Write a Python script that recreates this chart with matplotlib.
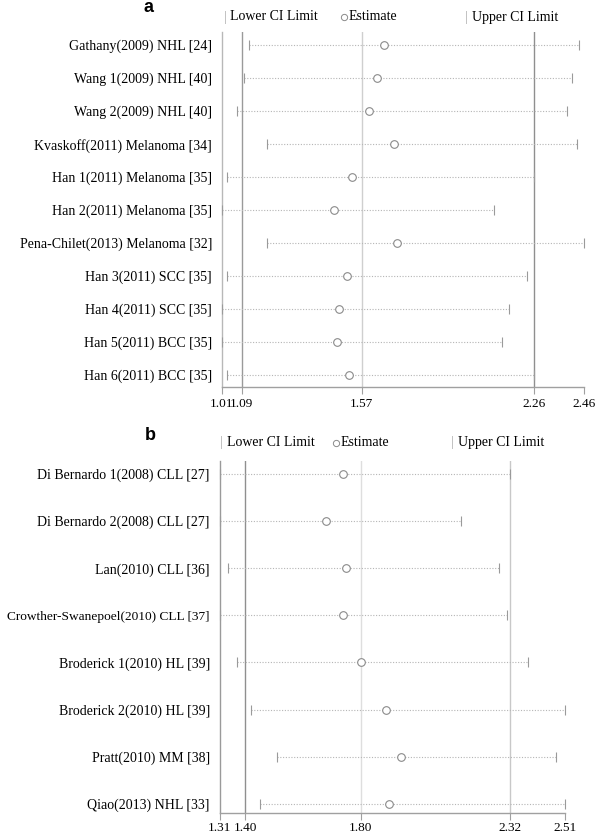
import matplotlib

matplotlib.use("Agg")
import matplotlib.pyplot as plt

# ---- panel a data ----
labels_a = [
    "Gathany(2009) NHL [24]",
    "Wang 1(2009) NHL [40]",
    "Wang 2(2009) NHL [40]",
    "Kvaskoff(2011) Melanoma [34]",
    "Han 1(2011) Melanoma [35]",
    "Han 2(2011) Melanoma [35]",
    "Pena-Chilet(2013) Melanoma [32]",
    "Han 3(2011) SCC [35]",
    "Han 4(2011) SCC [35]",
    "Han 5(2011) BCC [35]",
    "Han 6(2011) BCC [35]",
]
lower_a = [1.12, 1.10, 1.07, 1.19, 1.03, 1.01, 1.19, 1.03, 1.01, 1.01, 1.03]
est_a = [1.66, 1.63, 1.60, 1.70, 1.53, 1.46, 1.71, 1.51, 1.48, 1.47, 1.52]
upper_a = [2.44, 2.41, 2.39, 2.43, 2.26, 2.10, 2.46, 2.23, 2.16, 2.13, 2.26]
ticks_a = [1.01, 1.09, 1.57, 2.26, 2.46]
ref_a = [1.09, 1.57, 2.26]

# ---- panel b data ----
labels_b = [
    "Di Bernardo 1(2008) CLL [27]",
    "Di Bernardo 2(2008) CLL [27]",
    "Lan(2010) CLL [36]",
    "Crowther-Swanepoel(2010) CLL [37]",
    "Broderick 1(2010) HL [39]",
    "Broderick 2(2010) HL [39]",
    "Pratt(2010) MM [38]",
    "Qiao(2013) NHL [33]",
]
lower_b = [1.31, 1.31, 1.34, 1.31, 1.37, 1.42, 1.51, 1.45]
est_b = [1.74, 1.68, 1.75, 1.74, 1.80, 1.89, 1.94, 1.90]
upper_b = [2.32, 2.15, 2.28, 2.31, 2.38, 2.51, 2.48, 2.51]
ticks_b = [1.31, 1.40, 1.80, 2.32, 2.51]
ref_b = [1.40, 1.80, 2.32]

SERIF = "Liberation Serif"
W, H = 600, 836


def px_rect(x0, x1, y0, y1):
    """Axes rectangle from pixel coordinates (origin top-left)."""
    return [x0 / W, 1 - y1 / H, (x1 - x0) / W, (y1 - y0) / H]


def draw_panel(ax, labels, lower, est, upper, ticks, refs, ref_colors,
               spine_color, ylim, letter, letter_xy, legend_px, legend_y,
               tick_pad):
    n = len(labels)
    rows = list(range(n))

    for x, c in zip(refs, ref_colors):
        ax.axvline(x, color=c, lw=1.0, zorder=1)

    ax.hlines(rows, lower, upper, colors="#b5b5b5", lw=0.8,
              linestyles=(0, (1, 1.5)), zorder=2)
    ax.plot(lower, rows, ls="none", marker="|", ms=7, mew=0.8,
            color="#9a9a9a", zorder=3, clip_on=False)
    ax.plot(upper, rows, ls="none", marker="|", ms=7, mew=0.8,
            color="#9a9a9a", zorder=3, clip_on=False)
    ax.plot(est, rows, ls="none", marker="o", ms=5.5, mew=0.8,
            mfc="white", mec="#8a8a8a", zorder=4, clip_on=False)

    ax.set_xlim(ticks[0], ticks[-1])
    ax.set_ylim(*ylim)
    ax.set_yticks(rows)
    ax.set_yticklabels(labels, fontfamily=SERIF, fontsize=10)
    # Liberation Serif runs a bit wider than the original face: keep the
    # longest label inside the figure
    for lab in ax.get_yticklabels():
        if len(lab.get_text()) > 31:
            lab.set_fontsize(9.6)
    ax.tick_params(axis="y", length=0, pad=7)
    ax.set_xticks(ticks)
    ax.set_xticklabels([f"{t:.2f}" for t in ticks], fontfamily=SERIF,
                       fontsize=9.5)
    ax.tick_params(axis="x", length=5, color="#a0a0a0", pad=tick_pad)

    for side in ("top", "right"):
        ax.spines[side].set_visible(False)
    ax.spines["left"].set_color(spine_color)
    ax.spines["bottom"].set_color("#a0a0a0")
    ax.spines["left"].set_linewidth(1.0)
    ax.spines["bottom"].set_linewidth(1.0)

    fig = ax.figure
    fig.text(letter_xy[0] / W, 1 - letter_xy[1] / H, letter,
             fontfamily="Liberation Sans", fontweight="bold", fontsize=13,
             ha="center", va="center")

    # legend row
    ly = 1 - legend_y / H
    bar1, txt1, circ, txt2, bar2, txt3 = legend_px
    fig.text(bar1 / W, ly, "|", color="#b0b0b0", fontsize=10,
             ha="center", va="center", fontfamily=SERIF)
    fig.text(txt1 / W, ly, "Lower CI Limit", fontsize=10, ha="left",
             va="center", fontfamily=SERIF)
    fig.lines.append(plt.Line2D([circ / W], [ly], marker="o", ms=4.5,
                                mfc="white", mec="#8a8a8a", mew=0.7,
                                transform=fig.transFigure))
    fig.text(txt2 / W, ly, "Estimate", fontsize=10, ha="left",
             va="center", fontfamily=SERIF)
    fig.text(bar2 / W, ly, "|", color="#b0b0b0", fontsize=10,
             ha="center", va="center", fontfamily=SERIF)
    fig.text(txt3 / W, ly, "Upper CI Limit", fontsize=10, ha="left",
             va="center", fontfamily=SERIF)


def main() -> None:
    fig = plt.figure(figsize=(W / 100, H / 100), dpi=100)

    ax_a = fig.add_axes(px_rect(221.7, 584.3, 32, 387))
    draw_panel(ax_a, labels_a, lower_a, est_a, upper_a, ticks_a, ref_a,
               ["#9a9a9a", "#cfcfcf", "#8f8f8f"], "#b8b8b8",
               ((387 - 45) / 33, (32 - 45) / 33), "a", (148, 7),
               (225, 230, 344, 349, 466, 472), 17, 3)

    ax_b = fig.add_axes(px_rect(219.5, 565, 461, 813))
    draw_panel(ax_b, labels_b, lower_b, est_b, upper_b, ticks_b, ref_b,
               ["#8f8f8f", "#dedede", "#c8c8c8"], "#9a9a9a",
               ((813 - 474) / 47.1, (461 - 474) / 47.1), "b", (150, 436),
               (221.5, 227, 336, 341, 452, 458), 443, 1.5)

    fig.savefig("out.png", dpi=100)
    plt.close(fig)


if __name__ == "__main__":
    main()
